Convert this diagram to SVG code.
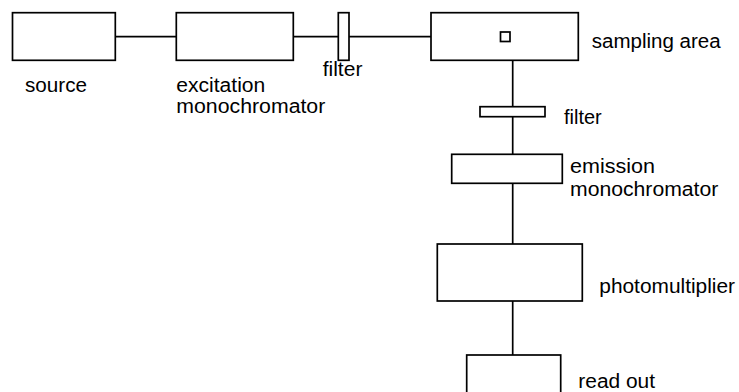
<svg xmlns="http://www.w3.org/2000/svg" width="739" height="392" viewBox="0 0 739 392">
<style>
.box{fill:#fff;stroke:#000;stroke-width:1.7}
.conn line{stroke:#000;stroke-width:1.7}
text{font-family:"Liberation Sans",Arial,sans-serif;font-size:19.5px;fill:#000}
</style>
<rect width="739" height="392" fill="#fff"/>
<g id="connectors" class="conn">
<line x1="115" y1="36.7" x2="176.3" y2="36.7"/>
<line x1="293.3" y1="36.7" x2="338.3" y2="36.7"/>
<line x1="349" y1="36.7" x2="431" y2="36.7"/>
<line x1="512.7" y1="60.3" x2="512.7" y2="106.7"/>
<line x1="512.7" y1="116.7" x2="512.7" y2="154.3"/>
<line x1="512.7" y1="183.3" x2="512.7" y2="244"/>
<line x1="512.7" y1="301" x2="512.7" y2="355"/>
</g>
<g id="source">
<rect class="box" x="12.5" y="12.7" width="102.8" height="47.6"/>
<text x="25" y="91.5" textLength="62" lengthAdjust="spacingAndGlyphs">source</text>
</g>
<g id="excitation-monochromator">
<rect class="box" x="176.3" y="12.7" width="117" height="47.6"/>
<text x="176.3" y="91.5" textLength="89" lengthAdjust="spacingAndGlyphs">excitation</text>
<text x="176.3" y="112.5" textLength="149" lengthAdjust="spacingAndGlyphs">monochromator</text>
</g>
<g id="filter1">
<rect class="box" x="338.3" y="12.7" width="10.7" height="47.6"/>
<text x="322.7" y="75.5" textLength="39.7" lengthAdjust="spacingAndGlyphs">filter</text>
</g>
<g id="sampling-area">
<rect class="box" x="431" y="12.7" width="147.3" height="47.6"/>
<rect class="box" x="500.5" y="32" width="9.5" height="9.5"/>
<text x="591.7" y="47.5" textLength="129" lengthAdjust="spacingAndGlyphs">sampling area</text>
</g>
<g id="filter2">
<rect class="box" x="480" y="106.7" width="65" height="10"/>
<text x="564" y="124" textLength="37.7" lengthAdjust="spacingAndGlyphs">filter</text>
</g>
<g id="emission-monochromator">
<rect class="box" x="451.7" y="154.3" width="110.6" height="29"/>
<text x="570" y="172.5" textLength="85" lengthAdjust="spacingAndGlyphs">emission</text>
<text x="570" y="196" textLength="148.3" lengthAdjust="spacingAndGlyphs">monochromator</text>
</g>
<g id="photomultiplier">
<rect class="box" x="437.3" y="244" width="145" height="57"/>
<text x="599.3" y="292.5" textLength="135.7" lengthAdjust="spacingAndGlyphs">photomultiplier</text>
</g>
<g id="read-out">
<rect class="box" x="466.7" y="355" width="94" height="50"/>
<text x="578.3" y="388.3" textLength="76.7" lengthAdjust="spacingAndGlyphs">read out</text>
</g>
</svg>
